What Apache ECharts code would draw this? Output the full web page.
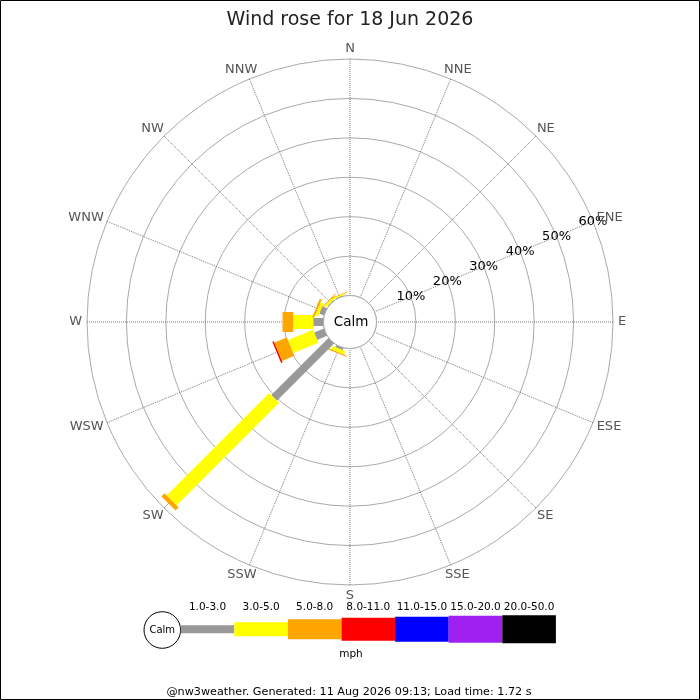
<!DOCTYPE html>
<html>
<head>
<meta charset="utf-8">
<script src="https://cdn.jsdelivr.net/npm/echarts@6/dist/echarts.min.js"></script>
<style>
html,body{margin:0;padding:0;background:#fff;}
#chart{width:700px;height:700px;}
</style>
</head>
<body>
<div id="chart"></div>
<script>
// ---- data ----
const directions = ['N','NNE','NE','ENE','E','ESE','SE','SSE','S','SSW','SW','WSW','W','WNW','NW','NNW'];
const speedClasses = ['1.0-3.0','3.0-5.0','5.0-8.0','8.0-11.0','11.0-15.0','15.0-20.0','20.0-50.0'];
const radiusTicks = [0, 10, 20, 30, 40, 50, 60];
// percent of time per direction (N..NNW) for each speed class
const speed1to3   = [0,0,0,0,0,0,0,0,0,0.6,20.5,2.7,2.6,1.3,0.2,0.2];
const speed3to5   = [0,0,0,0,0,0,0,0,0,0.9,36.8,6.9,5.1,0.8,0.6,0.3];
const speed5to8   = [0,0,0,0,0,0,0,0,0,0.3,1.1,3.4,2.7,0.5,0.2,0.2];
const speed8to11  = [0,0,0,0,0,0,0,0,0,0,0,0.4,0,0,0,0];
const speed11to15 = [0,0,0,0,0,0,0,0,0,0,0,0,0,0,0,0];
const speed15to20 = [0,0,0,0,0,0,0,0,0,0,0,0,0,0,0,0];
const speed20to50 = [0,0,0,0,0,0,0,0,0,0,0,0,0,0,0,0];
const titleText = 'Wind rose for 18 Jun 2026';
const footerText = '@nw3weather. Generated: 11 Aug 2026 09:13; Load time: 1.72 s';
const unitText = 'mph';
const calmText = 'Calm';

// ---- styles ----
const classSeries = [speed1to3, speed3to5, speed5to8, speed8to11, speed11to15, speed15to20, speed20to50];
const classColors = ['#999999','#ffff00','#ffa500','#ff0000','#0000ff','#a020f0','#000000'];
const classWidths = [8, 14, 20, 23, 25, 27, 28];
const FONT = 'DejaVu Sans';
const START = 3; // ENE index: radius axis labels are drawn along ENE spoke
const DIR_FONT = 13;
const MAXR = radiusTicks[radiusTicks.length - 1];

function dirAngle(d){ return ((d - START) * 22.5 + 360) % 360; }

// build stacked bar segments
const barData = [];
for (let d = 0; d < directions.length; d++) {
  let cum = 0;
  for (let k = 0; k < classSeries.length; k++) {
    const v = classSeries[k][d];
    if (v > 0) { barData.push([cum + v, dirAngle(d), cum, k]); cum += v; }
  }
}
const dirLabelData = directions.map(function (n, d) { return [MAXR, dirAngle(d), d]; });

const measureCtx = document.createElement('canvas').getContext('2d');
measureCtx.font = DIR_FONT + 'px "' + FONT + '"';

function unitAt(api, a) {
  const pc = api.coord([0, a]), po = api.coord([MAXR, a]);
  let ux = po[0] - pc[0], uy = po[1] - pc[1];
  const L = Math.hypot(ux, uy);
  return [ux / L, uy / L];
}

function renderBar(params, api) {
  const r1 = api.value(0), a = api.value(1), r0 = api.value(2), k = api.value(3);
  const p0 = api.coord([r0, a]), p1 = api.coord([r1, a]);
  const u = unitAt(api, a);
  const h = classWidths[k] / 2;
  const nx = -u[1] * h, ny = u[0] * h;
  return {
    type: 'polygon',
    shape: { points: [[p0[0]+nx, p0[1]+ny], [p1[0]+nx, p1[1]+ny], [p1[0]-nx, p1[1]-ny], [p0[0]-nx, p0[1]-ny]] },
    style: { fill: classColors[k], stroke: null }
  };
}

function renderDirLabel(params, api) {
  const a = api.value(1), d = api.value(2);
  const name = directions[d];
  const p = api.coord([MAXR, a]);
  const u = unitAt(api, a);
  const w = measureCtx.measureText(name).width;
  const x = p[0] + u[0] * 5 + u[0] * w / 2;
  const y = p[1] + u[1] * 5 + u[1] * 5.5;
  return {
    type: 'text',
    style: { x: x, y: y, text: name, fill: '#555', font: DIR_FONT + 'px "' + FONT + '"', align: 'center', verticalAlign: 'middle' }
  };
}

function renderCalm(params, api) {
  const a = api.coord([0, 0]), b = api.coord([0, 180]);
  const cx = (a[0] + b[0]) / 2, cy = (a[1] + b[1]) / 2;
  const r = Math.hypot(a[0] - b[0], a[1] - b[1]) / 2;
  return {
    type: 'group',
    children: [
      { type: 'circle', shape: { cx: cx, cy: cy, r: r }, style: { fill: '#fff', stroke: '#aaaaaa', lineWidth: 1 } },
      { type: 'text', style: { x: cx + 1, y: cy, text: calmText, fill: '#000', font: '13.5px "' + FONT + '"', align: 'center', verticalAlign: 'middle' } }
    ]
  };
}

// legend graphics built from the class arrays
const legendX0 = 180.7, legendSeg = 53.6, legendY = 629.3;
const graphics = [];
graphics.push({ type: 'rect', shape: { x: 0.5, y: 0.5, width: 699, height: 699 }, style: { fill: null, stroke: '#000', lineWidth: 1 }, z: 100 });
graphics.push({ type: 'circle', shape: { cx: 162.3, cy: 630, r: 18.3 }, style: { fill: '#fff', stroke: '#000', lineWidth: 1 } });
graphics.push({ type: 'text', style: { x: 162.3, y: 630.5, text: calmText, fill: '#000', font: '10px "' + FONT + '"', align: 'center', verticalAlign: 'middle' } });
speedClasses.forEach(function (lab, k) {
  const x = legendX0 + k * legendSeg;
  graphics.push({ type: 'rect', shape: { x: x, y: legendY - classWidths[k] / 2, width: legendSeg, height: classWidths[k] }, style: { fill: classColors[k] } });
  graphics.push({ type: 'text', style: { x: x + legendSeg / 2, y: 607.5, text: lab, fill: '#000', font: '10.5px "' + FONT + '"', align: 'center', verticalAlign: 'middle' } });
});
graphics.push({ type: 'text', style: { x: 351, y: 654, text: unitText, fill: '#000', font: '10.5px "' + FONT + '"', align: 'center', verticalAlign: 'middle' } });
graphics.push({ type: 'text', style: { x: 349, y: 692.5, text: footerText, fill: '#000', font: '11.2px "' + FONT + '"', align: 'center', verticalAlign: 'middle' } });

const chart = echarts.init(document.getElementById('chart'), null, { renderer: 'canvas' });
chart.setOption({
  animation: false,
  backgroundColor: '#fff',
  title: {
    text: titleText, left: 'center', top: 6,
    textStyle: { fontSize: 19, fontWeight: 'normal', color: '#222', fontFamily: FONT }
  },
  polar: { center: [350, 322], radius: [26.5, 263] },
  angleAxis: {
    type: 'value', min: 0, max: 360, interval: 22.5,
    startAngle: 22.5, clockwise: true,
    axisLine: { show: false }, axisTick: { show: false },
    axisLabel: { show: false },
    splitLine: { show: true, lineStyle: { color: '#777', width: 1, type: [1, 1] } }
  },
  radiusAxis: {
    type: 'value', min: radiusTicks[0], max: MAXR, interval: 10,
    axisLine: { show: false }, axisTick: { show: false },
    axisLabel: {
      margin: 0, color: '#000', fontSize: 13, fontFamily: FONT, align: 'center', verticalAlign: 'middle',
      formatter: function (v) { return v === 0 ? '' : v + '%'; }
    },
    splitLine: { show: true, lineStyle: { color: '#aaaaaa', width: 1 } }
  },
  graphic: graphics,
  series: [
    { type: 'custom', coordinateSystem: 'polar', renderItem: renderBar, data: barData, encode: { radius: 0, angle: 1 }, z: 3, silent: true },
    { type: 'custom', coordinateSystem: 'polar', renderItem: renderCalm, data: [[0, 0]], encode: { radius: 0, angle: 1 }, z: 5, silent: true },
    { type: 'custom', coordinateSystem: 'polar', renderItem: renderDirLabel, data: dirLabelData, encode: { radius: 0, angle: 1 }, z: 6, silent: true, clip: false }
  ]
});
</script>
</body>
</html>
